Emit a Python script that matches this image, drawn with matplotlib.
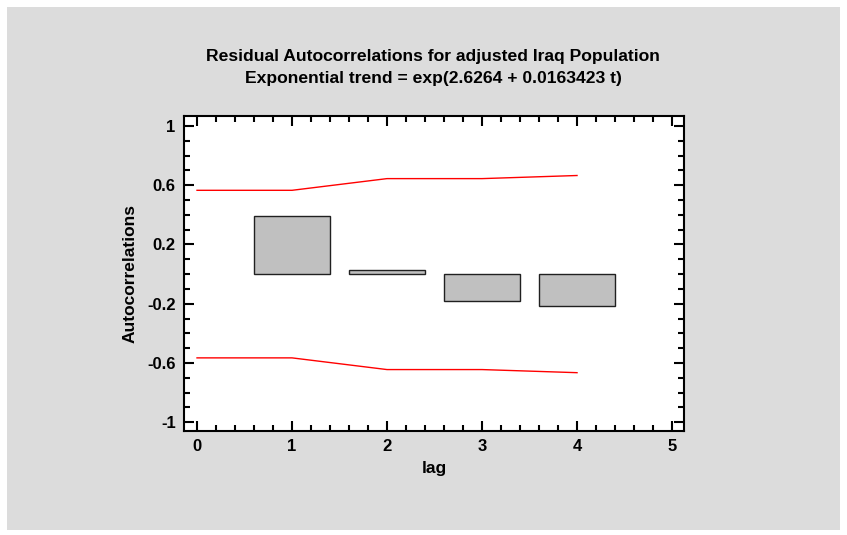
import matplotlib
matplotlib.use("Agg")
import matplotlib.pyplot as plt
from matplotlib.ticker import MultipleLocator, FixedLocator
from matplotlib.patches import Rectangle

lags = [1, 2, 3, 4]
acf = [0.393, 0.030, -0.185, -0.216]
limit_lags = [0, 1, 2, 3, 4]
upper = [0.566, 0.566, 0.645, 0.645, 0.666]
lower = [-0.566, -0.566, -0.645, -0.645, -0.666]
yticks = [1, 0.6, 0.2, -0.2, -0.6, -1]
ytick_labels = ["1", "0.6", "0.2", "-0.2", "-0.6", "-1"]
xticks = [0, 1, 2, 3, 4, 5]

plt.rcParams['font.family'] = ['Liberation Sans', 'DejaVu Sans']

fig = plt.figure(figsize=(8.47, 5.35), dpi=100)
fig.patch.set_facecolor('white')
bg = Rectangle((7 / 847, 5 / 535), 833 / 847, 523 / 535, transform=fig.transFigure,
               facecolor='#dcdcdc', edgecolor='none', zorder=-10)
fig.patches.append(bg)

ax = fig.add_axes([184 / 847, 1 - 431 / 535, 500 / 847, 315 / 535])
ax.set_facecolor('white')

ax.bar(lags, acf, width=0.8, color='#c0c0c0', edgecolor='#202020', linewidth=1.0, zorder=2)
ax.plot(limit_lags, upper, color='red', linewidth=1.0, zorder=3)
ax.plot(limit_lags, lower, color='red', linewidth=1.0, zorder=3)

ax.set_xlim(-0.137, 5.126)
ax.set_ylim(-1.06, 1.068)
ax.yaxis.set_major_locator(FixedLocator(yticks))
ax.set_yticklabels(ytick_labels)
ax.yaxis.set_minor_locator(MultipleLocator(0.1))
ax.set_xticks(xticks)
ax.xaxis.set_minor_locator(MultipleLocator(0.2))

ax.tick_params(which='both', direction='in', top=True, right=True, width=1.5, color='black')
ax.tick_params(which='major', length=7, labelsize=12, pad=6)
ax.tick_params(which='minor', length=4)
for lab in ax.get_xticklabels() + ax.get_yticklabels():
    lab.set_fontweight('bold')
for sp in ax.spines.values():
    sp.set_linewidth(1.5)

ax.set_xlabel('lag', fontsize=12.5, fontweight='bold', labelpad=5)
ax.set_ylabel('Autocorrelations', fontsize=12.5, fontweight='bold', labelpad=7)

fig.text(433 / 847, 1 - 57 / 535, 'Residual Autocorrelations for adjusted Iraq Population',
         ha='center', va='center', fontsize=12.6, fontweight='bold')
fig.text(433 / 847, 1 - 78 / 535, 'Exponential trend = exp(2.6264 + 0.0163423 t)',
         ha='center', va='center', fontsize=12.6, fontweight='bold')

fig.savefig('out.png', dpi=100, facecolor=fig.get_facecolor())
